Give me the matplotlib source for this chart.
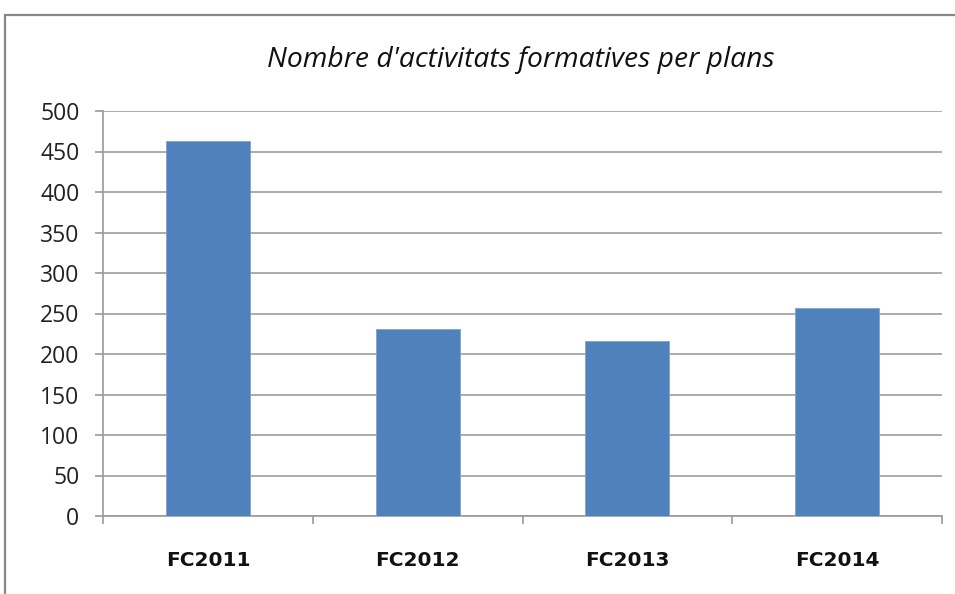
import matplotlib
matplotlib.use("Agg")
import matplotlib.pyplot as plt
from matplotlib.patches import Rectangle

categories = ["FC2011", "FC2012", "FC2013", "FC2014"]
values = [463, 231, 216, 257]
yticks = [0, 50, 100, 150, 200, 250, 300, 350, 400, 450, 500]
title = "Nombre d'activitats formatives per plans"

W, H = 955, 594
fig = plt.figure(figsize=(W / 100, H / 100), dpi=100)
fig.patch.set_facecolor("white")

# outer chart frame
fig.add_artist(Rectangle((5 / W, -0.05), 1.2, (H - 15) / H + 0.05,
                         transform=fig.transFigure, fill=False,
                         edgecolor="#878787", linewidth=1.6))

left, right, top, bottom = 103, 942, 111, 516
ax = fig.add_axes([left / W, 1 - bottom / H, (right - left) / W, (bottom - top) / H])

x = list(range(len(categories)))
ax.bar(x, values, width=0.4, color="#4f81bd", edgecolor="#7fa3d1", linewidth=0.6, zorder=3)
ax.set_xlim(-0.5, len(categories) - 0.5)
ax.set_ylim(0, 500)
ax.set_yticks(yticks)
ax.set_yticklabels([str(v) for v in yticks], fontsize=16.5, family="Open Sans", color="#222222")
ax.yaxis.grid(True, color="#ababab", linewidth=1.4, zorder=0)
ax.set_axisbelow(True)

ax.set_xticks(x)
ax.set_xticklabels(categories, fontsize=14.5, fontweight="bold", family="DejaVu Sans", color="#111111")
ax.tick_params(axis="x", length=0, pad=25)
ax.tick_params(axis="y", length=6, color="#9a9a9a", width=1.2, pad=11)
# category boundary ticks
ax.set_xticks([i - 0.5 for i in range(len(categories) + 1)], minor=True)
ax.tick_params(axis="x", which="minor", length=6, color="#9a9a9a", width=1.2, direction="out")

for s in ["top", "right"]:
    ax.spines[s].set_visible(False)
ax.spines["left"].set_color("#9a9a9a")
ax.spines["left"].set_linewidth(1.2)
ax.spines["bottom"].set_color("#9a9a9a")
ax.spines["bottom"].set_linewidth(1.2)

fig.text(521 / W, 1 - 60 / H, title, ha="center", va="center", fontsize=20.3,
         style="italic", family="Open Sans", color="#111111")

fig.savefig("out.png", dpi=100)
